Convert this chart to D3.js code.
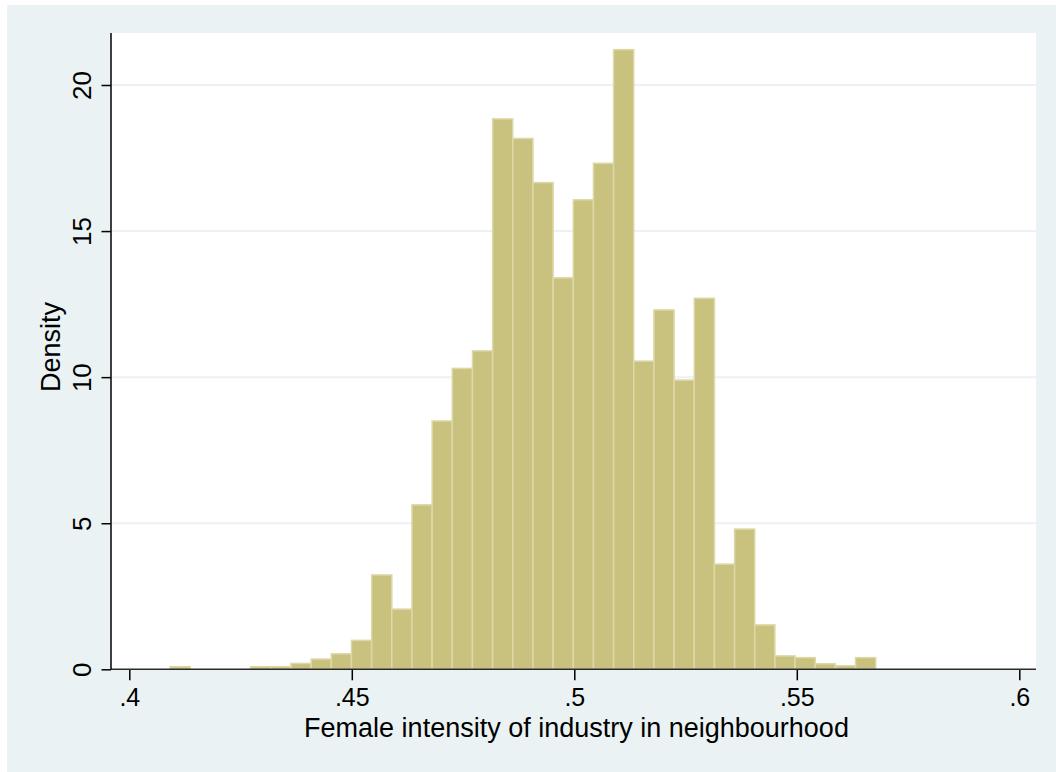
<!DOCTYPE html>
<html>
<head>
<meta charset="utf-8">
<script src="https://cdn.jsdelivr.net/npm/d3@7"></script>
<style>
  html, body { margin: 0; padding: 0; background: #ffffff; }
  svg { display: block; }
  text { font-family: "Liberation Sans", Arial, sans-serif; fill: #000; }
</style>
</head>
<body>
<svg id="chart" width="1056" height="772"></svg>
<script>
// Histogram of neighbourhood female industry intensity (density scale)
const binStart = 0.40915;
const binWidth = 0.004531;
const densities = [
  0.09, 0, 0, 0, 0.09, 0.09, 0.2, 0.35, 0.53, 0.99,
  3.23, 2.06, 5.63, 8.5, 10.3, 10.9, 18.84, 18.17, 16.66, 13.4,
  16.07, 17.32, 21.21, 10.55, 12.3, 9.9, 12.7, 3.6, 4.8, 1.52,
  0.46, 0.40, 0.19, 0.12, 0.40
];
const xTicks = [0.4, 0.45, 0.5, 0.55, 0.6];
const xTickLabels = [".4", ".45", ".5", ".55", ".6"];
const yTicks = [0, 5, 10, 15, 20];
const yTickLabels = ["0", "5", "10", "15", "20"];
const xTitle = "Female intensity of industry in neighbourhood";
const yTitle = "Density";

const bins = densities.map((d, i) => ({
  x0: binStart + i * binWidth,
  x1: binStart + (i + 1) * binWidth,
  density: d
}));

const svg = d3.select("#chart");

// graph region and plot region
const outer = { x: 7, y: 5, w: 1049, h: 767 };
const plot = { left: 111, right: 1036, top: 33, bottom: 669.3 };

svg.append("rect")
  .attr("x", outer.x).attr("y", outer.y)
  .attr("width", outer.w).attr("height", outer.h)
  .attr("fill", "#eaf2f3");

svg.append("rect")
  .attr("x", plot.left).attr("y", plot.top)
  .attr("width", plot.right - plot.left).attr("height", plot.bottom - plot.top)
  .attr("fill", "#ffffff");

const x = d3.scaleLinear().domain([0.4, 0.6]).range([129.3, 1019.3]);
const y = d3.scaleLinear().domain([0, 20]).range([669.3, 85]);

// horizontal gridlines
svg.append("g")
  .selectAll("line")
  .data(yTicks.filter(t => t > 0))
  .join("line")
  .attr("x1", plot.left).attr("x2", plot.right)
  .attr("y1", d => y(d)).attr("y2", d => y(d))
  .attr("stroke", "#eaf2f3")
  .attr("stroke-width", 2);

// bars
svg.append("g")
  .selectAll("rect")
  .data(bins)
  .join("rect")
  .attr("x", d => x(d.x0))
  .attr("width", d => x(d.x1) - x(d.x0))
  .attr("y", d => y(d.density))
  .attr("height", d => y(0) - y(d.density))
  .attr("fill", "#c9c27e")
  .attr("stroke", "#ddd8a8")
  .attr("stroke-width", 1.5);

// x axis
const xAxis = d3.axisBottom(x)
  .tickValues(xTicks)
  .tickFormat((d, i) => xTickLabels[i])
  .tickSize(11)
  .tickPadding(8);

const gx = svg.append("g")
  .attr("transform", `translate(0,${plot.bottom})`)
  .call(xAxis);
gx.select(".domain").remove();
gx.append("line")
  .attr("x1", plot.left).attr("x2", plot.right)
  .attr("y1", 0).attr("y2", 0)
  .attr("stroke", "#2b2b2b").attr("stroke-width", 1.5);
gx.selectAll(".tick line").attr("stroke", "#000").attr("stroke-width", 1.5);
gx.selectAll(".tick text")
  .attr("font-size", 25)
  .attr("font-family", "Liberation Sans, Arial, sans-serif")
  .attr("fill", "#000");

// y axis
const yAxis = d3.axisLeft(y)
  .tickValues(yTicks)
  .tickFormat((d, i) => yTickLabels[i])
  .tickSize(9.5)
  .tickPadding(0);

const gy = svg.append("g")
  .attr("transform", `translate(${plot.left},0)`)
  .call(yAxis);
gy.select(".domain").remove();
gy.append("line")
  .attr("x1", 0).attr("x2", 0)
  .attr("y1", plot.top).attr("y2", plot.bottom)
  .attr("stroke", "#000").attr("stroke-width", 1.5);
gy.selectAll(".tick line").attr("stroke", "#000").attr("stroke-width", 1.5);
gy.selectAll(".tick text")
  .attr("font-size", 26)
  .attr("font-family", "Liberation Sans, Arial, sans-serif")
  .attr("fill", "#000")
  .attr("text-anchor", "middle")
  .attr("dy", null)
  .attr("x", null)
  .attr("transform", "translate(-20,0) rotate(-90)");

// axis titles
svg.append("text")
  .attr("x", (305 + 848) / 2)
  .attr("y", 737)
  .attr("text-anchor", "middle")
  .attr("font-size", 27)
  .text(xTitle);

svg.append("text")
  .attr("transform", `translate(60,${(296 + 398) / 2}) rotate(-90)`)
  .attr("text-anchor", "middle")
  .attr("font-size", 27)
  .text(yTitle);
</script>
</body>
</html>
